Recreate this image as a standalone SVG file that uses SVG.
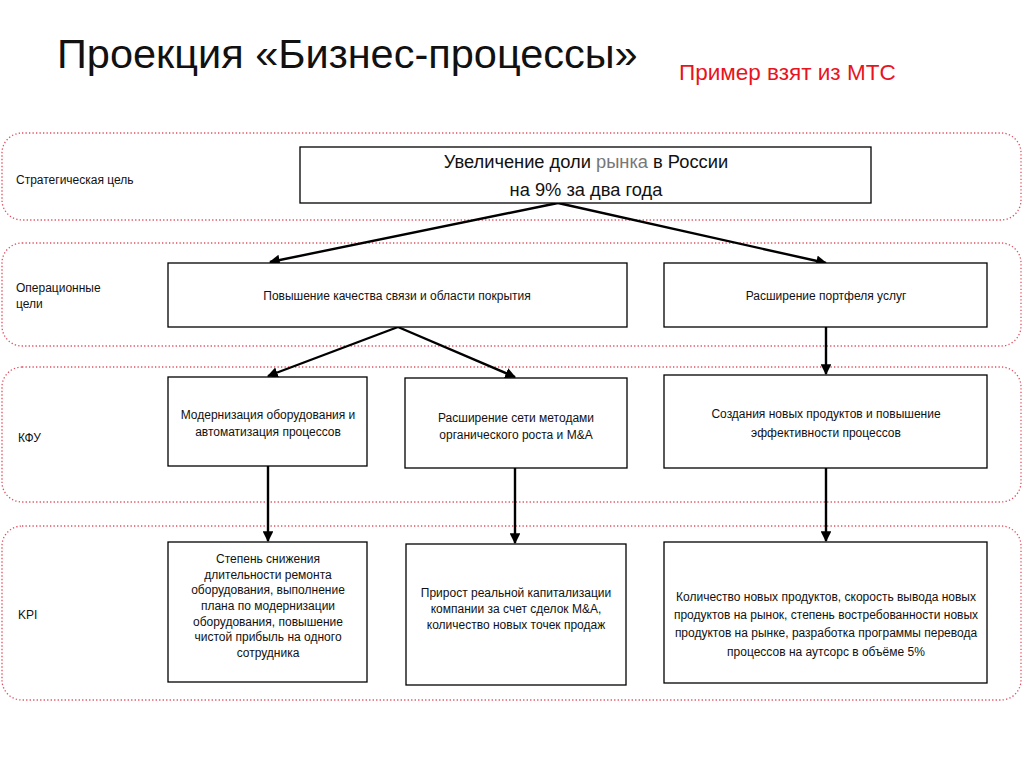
<svg xmlns="http://www.w3.org/2000/svg" width="1024" height="767" viewBox="0 0 1024 767">
<defs>
<marker id="ah" viewBox="0 0 10 10" refX="9" refY="5" markerWidth="4.5" markerHeight="4.5" orient="auto" markerUnits="strokeWidth">
<path d="M0,0 L10,5 L0,10 z" fill="#000"/>
</marker>
<style>
.band{fill:none;stroke:#e05060;stroke-width:1.3;stroke-dasharray:1.3 2.2}
.box{fill:#fff;stroke:#000;stroke-width:1.3}
.t{font-family:"Liberation Sans",Arial,sans-serif;font-size:12px;fill:#111;text-anchor:middle}
.lbl{font-family:"Liberation Sans",Arial,sans-serif;font-size:12px;fill:#111}
.con{stroke:#000;stroke-width:2.4;fill:none;marker-end:url(#ah)}
</style>
</defs>
<rect width="1024" height="767" fill="#fff"/>
<text x="57" y="68" font-family="Liberation Sans, Arial, sans-serif" font-size="41.5" fill="#111">Проекция «Бизнес-процессы»</text>
<text x="679" y="80" font-family="Liberation Sans, Arial, sans-serif" font-size="22.5" fill="#e8141e">Пример взят из МТС</text>

<g id="bands">
<rect class="band" x="2" y="133" width="1019" height="87" rx="20"/>
<rect class="band" x="2" y="243" width="1019" height="103" rx="20"/>
<rect class="band" x="2" y="367" width="1019" height="135" rx="20"/>
<rect class="band" x="2" y="526" width="1019" height="174" rx="20"/>
</g>
<g id="band-labels">
<text class="lbl" x="16" y="184">Стратегическая цель</text>
<text class="lbl" x="16" y="292">Операционные</text>
<text class="lbl" x="16" y="308">цели</text>
<text class="lbl" x="18" y="442">КФУ</text>
<text class="lbl" x="18" y="619">KPI</text>
</g>

<g id="connectors">
<line class="con" x1="558" y1="203" x2="270" y2="262"/>
<line class="con" x1="558" y1="203" x2="826" y2="263"/>
<line class="con" x1="398" y1="327" x2="268" y2="376"/>
<line class="con" x1="398" y1="327" x2="515" y2="377"/>
<line class="con" x1="826" y1="327" x2="826" y2="374"/>
<line class="con" x1="268" y1="466" x2="268" y2="541"/>
<line class="con" x1="515" y1="468" x2="515" y2="543"/>
<line class="con" x1="826" y1="468" x2="826" y2="541"/>
</g>

<g id="goal">
<rect class="box" x="300" y="147" width="571" height="56"/>
<text class="t" x="586" y="168" style="font-size:18.3px">Увеличение доли <tspan fill="#777">рынка</tspan> в России</text>
<text class="t" x="586" y="196" style="font-size:18.3px">на 9% за два года</text>
</g>

<g id="op1">
<rect class="box" x="168" y="263" width="459" height="64"/>
<text class="t" x="397" y="300">Повышение качества связи и области покрытия</text>
</g>
<g id="op2">
<rect class="box" x="664" y="263" width="323" height="64"/>
<text class="t" x="826" y="300">Расширение портфеля услуг</text>
</g>

<g id="kfu1">
<rect class="box" x="168" y="377" width="199" height="89"/>
<text class="t" x="268" y="419">Модернизация оборудования и</text>
<text class="t" x="268" y="436">автоматизация процессов</text>
</g>
<g id="kfu2">
<rect class="box" x="405" y="378" width="222" height="90"/>
<text class="t" x="516" y="422">Расширение сети методами</text>
<text class="t" x="516" y="439">органического роста и M&amp;A</text>
</g>
<g id="kfu3">
<rect class="box" x="664" y="375" width="323" height="93"/>
<text class="t" x="826" y="418">Создания новых продуктов и повышение</text>
<text class="t" x="826" y="437">эффективности процессов</text>
</g>

<g id="kpi1">
<rect class="box" x="168" y="542" width="199" height="140"/>
<text class="t" x="268" y="563">Степень снижения</text>
<text class="t" x="268" y="579">длительности ремонта</text>
<text class="t" x="268" y="594">оборудования, выполнение</text>
<text class="t" x="268" y="610">плана по модернизации</text>
<text class="t" x="268" y="626">оборудования, повышение</text>
<text class="t" x="268" y="641">чистой прибыль на одного</text>
<text class="t" x="268" y="657">сотрудника</text>
</g>
<g id="kpi2">
<rect class="box" x="406" y="544" width="220" height="141"/>
<text class="t" x="516" y="597">Прирост реальной капитализации</text>
<text class="t" x="516" y="613">компании за счет сделок M&amp;A,</text>
<text class="t" x="516" y="629">количество новых точек продаж</text>
</g>
<g id="kpi3">
<rect class="box" x="664" y="542" width="323" height="141"/>
<text class="t" x="826" y="601">Количество новых продуктов, скорость вывода новых</text>
<text class="t" x="826" y="619">продуктов на рынок, степень востребованности новых</text>
<text class="t" x="826" y="637">продуктов на рынке, разработка программы перевода</text>
<text class="t" x="826" y="656">процессов на аутсорс в объёме 5%</text>
</g>
</svg>
